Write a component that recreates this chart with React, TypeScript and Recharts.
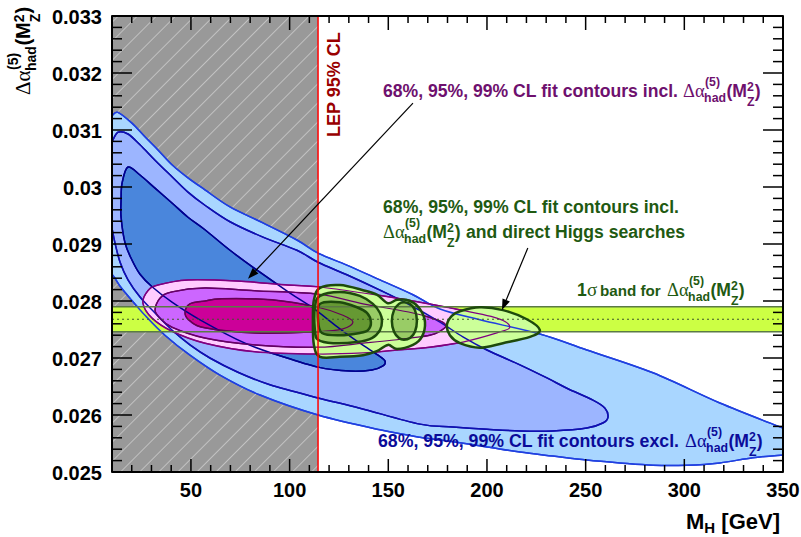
import React from "react";
import { ScatterChart, Scatter, XAxis, YAxis } from "recharts";

type P = [number, number];
type Pt = { x: number; y: number };

const SANS = '"Liberation Sans", Arial, Helvetica, sans-serif';
const SERIF = '"Liberation Serif", "Times New Roman", serif';

// axes
const xMajor = [50, 100, 150, 200, 250, 300, 350];
const yMajor = [0.025, 0.026, 0.027, 0.028, 0.029, 0.03, 0.031, 0.032, 0.033];
const xTicks: number[] = [];
for (let v = 10; v <= 350; v += 10) xTicks.push(v);
const yTicks: number[] = [];
for (let k = 0; k <= 40; k++) yTicks.push(Math.round((0.025 + k * 0.0002) * 1e5) / 1e5);

// LEP limit and 1 sigma band of dalpha_had
const lepLimit = 114.4;
const bandLo = 0.02746;
const bandMid = 0.02768;
const bandHi = 0.0279;

// fit contours excluding dalpha_had (blue)
const blue99: P[] = [
  [10, 0.03125], [13.0, 0.03131], [20.1, 0.03112], [26.7, 0.03088], [33.3, 0.03065], [40.4, 0.03039],
  [48.5, 0.03016], [57.1, 0.02995], [69.8, 0.02965], [86.5, 0.02937], [103.7, 0.02907], [114.4, 0.02884],
  [129.0, 0.02863], [145.8, 0.02837], [162.5, 0.02811], [176.2, 0.02786], [196.4, 0.02767], [226.8, 0.02742],
  [250.6, 0.02714], [284.1, 0.02674], [318.0, 0.02621], [350, 0.02577],
  [350, 0.0253], [334.7, 0.02525], [318.0, 0.02516], [301.3, 0.02512], [284.1, 0.02512], [267.3, 0.02516],
  [250.6, 0.02521], [233.4, 0.02528], [216.7, 0.02535], [200.0, 0.02544], [182.7, 0.02553], [166.0, 0.02561],
  [145.8, 0.02574], [114.4, 0.026], [85.0, 0.02635], [64.7, 0.0267], [49.5, 0.02705], [36.8, 0.0274],
  [26.7, 0.02775], [19.1, 0.02805], [14.1, 0.02826], [11.5, 0.0284], [10, 0.02847],
];
const blue95: P[] = [
  [10, 0.03079], [13.0, 0.03096], [18.1, 0.03093], [24.2, 0.03074], [31.8, 0.03047], [40.4, 0.03018],
  [48.5, 0.02991], [57.1, 0.02968], [69.8, 0.02939], [86.5, 0.02912], [103.7, 0.02889], [114.4, 0.02868],
  [129.0, 0.02846], [145.8, 0.02819], [161.0, 0.02793], [176.2, 0.02763], [187.8, 0.02737], [200.0, 0.02714],
  [216.7, 0.02688], [230.4, 0.02665], [240.5, 0.02647], [253.7, 0.02626], [259.8, 0.02612], [261.3, 0.02596],
  [258.7, 0.02586], [250.6, 0.02577], [233.4, 0.02572], [216.7, 0.02572], [200.0, 0.02575], [182.7, 0.02579],
  [166.0, 0.02584], [135.6, 0.02612], [114.4, 0.0263], [90.0, 0.02653], [73.8, 0.02675], [59.6, 0.027],
  [49.5, 0.02723], [40.4, 0.02749], [31.8, 0.02779], [24.2, 0.02807], [18.1, 0.02837], [14.1, 0.02868],
  [11.5, 0.02902], [10, 0.02928],
];
const blue68: P[] = [
  [18.1, 0.03035], [15.1, 0.03007], [14.6, 0.02977], [14.6, 0.02947], [16.6, 0.02902], [20.1, 0.02872],
  [24.2, 0.02847], [30.3, 0.02825], [40.4, 0.02798], [54.6, 0.02767], [77.4, 0.02726], [95.1, 0.02704],
  [114.4, 0.02684], [130.6, 0.02677], [141.7, 0.02679], [147.3, 0.02686], [148.3, 0.02695], [144.8, 0.02705],
  [135.6, 0.02726], [125.5, 0.02751], [111.8, 0.02788], [100.2, 0.02814], [83.5, 0.02854], [69.8, 0.02889],
  [57.1, 0.02925], [48.5, 0.02947], [40.4, 0.02972], [31.8, 0.02998], [24.2, 0.03021],
];

// fit contours including dalpha_had (magenta)
const pink99: P[] = [
  [25.7, 0.02796], [28.2, 0.02818], [33.3, 0.02828], [48.5, 0.02837], [73.8, 0.02835], [99.2, 0.02828],
  [114.4, 0.02825], [137.2, 0.02814], [154.4, 0.02805], [179.7, 0.02789], [205.0, 0.0277], [211.6, 0.02754],
  [205.0, 0.02744], [187.8, 0.02728], [171.1, 0.02719], [154.4, 0.02714], [137.2, 0.02709], [114.4, 0.02707],
  [82.4, 0.02711], [57.1, 0.02726], [40.4, 0.02747], [30.3, 0.0277],
];
const violet95: P[] = [
  [31.8, 0.02784], [34.3, 0.02805], [40.4, 0.02816], [57.1, 0.02823], [82.4, 0.02818], [114.4, 0.02812],
  [137.2, 0.02795], [162.5, 0.02779], [176.2, 0.02765], [179.2, 0.02756], [176.2, 0.02747], [171.1, 0.0274],
  [154.4, 0.02732], [137.2, 0.02726], [114.4, 0.02719], [82.4, 0.02723], [57.1, 0.02735], [40.4, 0.02754],
  [34.3, 0.0277],
];
const magenta68: P[] = [
  [47.0, 0.02779], [49.5, 0.02795], [57.1, 0.028], [65.7, 0.02804], [91.1, 0.02802], [114.4, 0.02789],
  [127.0, 0.02775], [132.1, 0.02763], [127.0, 0.02751], [114.4, 0.02746], [82.4, 0.02744], [57.1, 0.02753],
  [49.5, 0.02765],
];

// fit contours including dalpha_had and direct Higgs searches (green)
const green99a: P[] = [
  [111.8, 0.02767], [112.3, 0.02802], [115.4, 0.02823], [125.5, 0.02828], [137.2, 0.02819], [144.2, 0.02811],
  [149.8, 0.02796], [154.4, 0.02802], [161.0, 0.028], [166.0, 0.02786], [168.6, 0.02763], [167.0, 0.02737],
  [162.5, 0.02723], [154.4, 0.02716], [149.8, 0.02723], [144.2, 0.02712], [137.2, 0.02705], [125.5, 0.02702],
  [115.4, 0.02702], [112.3, 0.02723],
];
const green99b: P[] = [
  [179.7, 0.02758], [182.2, 0.02774], [186.3, 0.02782], [196.4, 0.02789], [208.1, 0.02784], [220.2, 0.02768],
  [226.8, 0.02749], [221.8, 0.02737], [208.1, 0.02726], [196.4, 0.02718], [186.3, 0.02726], [181.2, 0.0274],
];
const green95a: P[] = [
  [112.8, 0.02789], [115.4, 0.02809], [125.5, 0.02816], [135.6, 0.02809], [142.2, 0.02795], [145.8, 0.02779],
  [146.8, 0.02765], [145.8, 0.02749], [141.7, 0.02735], [134.1, 0.02728], [122.0, 0.02726], [114.4, 0.02732],
  [112.8, 0.02749],
];
const green95b: P[] = [
  [151.8, 0.02765], [152.9, 0.02784], [155.4, 0.02795], [157.9, 0.02798], [161.0, 0.02795], [163.5, 0.02784],
  [164.5, 0.02765], [163.5, 0.02746], [161.0, 0.02735], [157.9, 0.02732], [155.4, 0.02735], [152.9, 0.02746],
];
const green68: P[] = [
  [114.4, 0.02767], [115.4, 0.02795], [125.5, 0.02798], [134.1, 0.02789], [139.2, 0.02779], [141.2, 0.02763],
  [139.7, 0.02749], [135.6, 0.02744], [125.5, 0.0274], [116.4, 0.02744],
];

// annotation arrows (tail, head)
const arrowIncl: P[] = [[162.5, 0.03147], [78.9, 0.02839]];
const arrowHiggs: P[] = [[220.7, 0.02893], [207.6, 0.02784]];

const excluded: P[] = [[10, 0.025], [lepLimit, 0.025], [lepLimit, 0.033], [10, 0.033]];
const band: P[] = [[10, bandLo], [350, bandLo], [350, bandHi], [10, bandHi]];
const frame: P[] = [[10, 0.025], [350, 0.025], [350, 0.033], [10, 0.033]];

const PURPLE = "#6e106e";
const GREEN_TXT = "#1f5a12";
const BLUE_TXT = "#0b0b99";

const toXY = (a: P[]) => a.map(([x, y]) => ({ x, y }));
const noDot = () => <g />;
const isMajorY = (v: number) => yMajor.some((m) => Math.abs(m - v) < 1e-7);
const isMajorX = (v: number) => xMajor.includes(v);

// tick marks sit on the frame and point inwards, like the ROOT frame
const leftTicks = yTicks.map((y) => ({ x: 10, y, major: isMajorY(y) }));
const rightTicks = yTicks.map((y) => ({ x: 350, y, major: isMajorY(y) }));
const bottomTicks = xTicks.map((x) => ({ x, y: 0.025, major: isMajorX(x) }));
const topTicks = xTicks.map((x) => ({ x, y: 0.033, major: isMajorX(x) }));

function closedPath(pts: Pt[], data: P[], smooth: boolean) {
  const n = pts.length;
  if (!smooth) return "M" + pts.map((q) => `${q.x},${q.y}`).join("L") + "Z";
  const onEdge = (a: number, b: number) =>
    data[a][0] === data[b][0] && (data[a][0] === 10 || data[a][0] === 350);
  const tan = (k: number) => {
    const kp = (k - 1 + n) % n, kn = (k + 1) % n;
    const prev = onEdge(kp, k) ? pts[k] : pts[kp];
    const next = onEdge(k, kn) ? pts[k] : pts[kn];
    return { x: (next.x - prev.x) / 6, y: (next.y - prev.y) / 6 };
  };
  let d = `M${pts[0].x},${pts[0].y}`;
  for (let i = 0; i < n; i++) {
    const j = (i + 1) % n;
    const a = pts[i], b = pts[j];
    if (onEdge(i, j)) {
      d += `L${b.x},${b.y}`;
      continue;
    }
    const ta = tan(i), tb = tan(j);
    d += `C${a.x + ta.x},${a.y + ta.y} ${b.x - tb.x},${b.y - tb.y} ${b.x},${b.y}`;
  }
  return d + "Z";
}

const area = (id: string, data: P[], fill: string, stroke = "none", sw = 0, smooth = true) => (
  <Scatter
    key={id}
    data={toXY(data)}
    xAxisId="b"
    yAxisId="l"
    isAnimationActive={false}
    shape={noDot}
    line={(p: any) => (
      <path d={closedPath(p.points, data, smooth)} fill={fill} stroke={stroke} strokeWidth={sw} strokeLinejoin="round" />
    )}
  />
);

const segment = (id: string, data: P[], stroke: string, sw: number, dash?: string) => (
  <Scatter
    key={id}
    data={toXY(data)}
    xAxisId="b"
    yAxisId="l"
    isAnimationActive={false}
    shape={noDot}
    line={(p: any) => (
      <path
        d={"M" + p.points.map((q: Pt) => `${q.x},${q.y}`).join("L")}
        fill="none"
        stroke={stroke}
        strokeWidth={sw}
        strokeDasharray={dash}
      />
    )}
  />
);

const arrow = (id: string, data: P[]) => (
  <Scatter
    key={id}
    data={toXY(data)}
    xAxisId="b"
    yAxisId="l"
    isAnimationActive={false}
    shape={noDot}
    line={(p: any) => {
      const [a, b] = p.points as Pt[];
      const dx = b.x - a.x, dy = b.y - a.y;
      const len = Math.hypot(dx, dy) || 1;
      const ux = dx / len, uy = dy / len;
      const hl = 11, hw = 4;
      const bx = b.x - ux * hl, by = b.y - uy * hl;
      return (
        <g>
          <line x1={a.x} y1={a.y} x2={bx} y2={by} stroke="#000" strokeWidth={1.2} />
          <path d={`M${b.x},${b.y}L${bx - uy * hw},${by + ux * hw}L${bx + uy * hw},${by - ux * hw}Z`} fill="#000" />
        </g>
      );
    }}
  />
);

// dx, dy: direction of the tick into the frame; [major, minor] lengths in px
const tickMarks = (id: string, data: any[], dx: number, dy: number, lens: [number, number]) => (
  <Scatter
    key={id}
    data={data}
    xAxisId="b"
    yAxisId="l"
    isAnimationActive={false}
    shape={(p: any) => {
      const major = p.payload?.major ?? p.major;
      const L = major ? lens[0] : lens[1];
      return <line x1={p.cx} y1={p.cy} x2={p.cx + dx * L} y2={p.cy + dy * L} stroke="#000" strokeWidth={1.5} />;
    }}
  />
);

const fmtY = (v: number) => String(Number(v.toFixed(3)));

const LeftLabel = (p: any) => (
  <text x={p.x} y={p.y + 8} textAnchor="end" fontFamily={SANS} fontWeight="bold" fontSize={20} fill="#000">
    {fmtY(p.payload.value)}
  </text>
);
const BottomLabel = (p: any) => (
  <text x={p.x} y={p.y + 25} textAnchor="middle" fontFamily={SANS} fontWeight="bold" fontSize={20} fill="#000">
    {p.payload.value}
  </text>
);

function DeltaAlpha({ x, y, size, fill }: { x: number; y: number; size: number; fill: string }) {
  const s = size, k = 0.7 * size;
  const x1 = x + 1.2 * s;
  const x2 = x1 + 1.27 * s;
  const x3 = x2 + 1.17 * s;
  const x4 = x3 + 0.44 * s;
  const b = { fontFamily: SANS, fontWeight: "bold" as const };
  return (
    <g fill={fill}>
      <text x={x} y={y} fontFamily={SERIF} fontSize={s * 1.05}>Δα</text>
      <text x={x1} y={y + 0.28 * s} {...b} fontSize={k}>had</text>
      <text x={x1 + 0.05 * s} y={y - 0.62 * s} {...b} fontSize={k}>(5)</text>
      <text x={x2} y={y} {...b} fontSize={s}>(M</text>
      <text x={x3} y={y - 0.32 * s} {...b} fontSize={k}>2</text>
      <text x={x3} y={y + 0.5 * s} {...b} fontSize={k}>Z</text>
      <text x={x4} y={y} {...b} fontSize={s}>)</text>
    </g>
  );
}

export default function App() {
  const fs = 17.6;
  return (
    <div style={{ position: "absolute", left: 0, top: 0, width: 801, height: 537, background: "#fff" }}>
      <svg width={0} height={0} style={{ position: "absolute" }}>
        <defs>
          <pattern id="hatch" patternUnits="userSpaceOnUse" width={13.5} height={13.5} patternTransform="rotate(45)">
            <rect width={13.5} height={13.5} fill="#999999" />
            <line x1={0} y1={0} x2={0} y2={13.5} stroke="#dcdcdc" strokeWidth={1.2} />
          </pattern>
        </defs>
      </svg>
      <div style={{ position: "absolute", left: 0, top: 0 }}>
        <ScatterChart width={801} height={537} margin={{ top: 16, right: 18, bottom: 25, left: 12 }}>
          {area("excl", excluded, "url(#hatch)", "none", 0, false)}
          {area("b99", blue99, "#a9d6ff", "#2040e0", 1.5)}
          {area("b95", blue95, "#9cb5ff", "#1010b0", 1.5)}
          {area("b68", blue68, "#4a86dc", "#000090", 1.5)}
          {area("band", band, "#ccff44", "none", 0, false)}
          {area("p99", pink99, "#ffccff", "#800080", 1.5)}
          {area("p95", violet95, "#cc66ff", "#660066", 1.5)}
          {area("p68", magenta68, "#cc0099", "#660055", 1.5)}
          {area("g99a", green99a, "#ccff99")}
          {area("g99b", green99b, "#ccff99")}
          {area("g95a", green95a, "#99cc66")}
          {area("g95b", green95b, "#99cc66")}
          {area("g68", green68, "#669933")}
          {area("b99l", blue99, "none", "#2040e0", 1.5)}
          {area("b95l", blue95, "none", "#1010b0", 1.5)}
          {area("b68l", blue68, "none", "#000090", 1.5)}
          {area("p99l", pink99, "none", "#800080", 1.2)}
          {area("p95l", violet95, "none", "#660066", 1.2)}
          {area("p68l", magenta68, "none", "#660055", 1.2)}
          {segment("bandHi", [[10, bandHi], [350, bandHi]], "#5b7a45", 1.5)}
          {segment("bandLo", [[10, bandLo], [350, bandLo]], "#5b7a45", 1.5)}
          {segment("bandMid", [[10, bandMid], [350, bandMid]], "#3d5a2a", 1.2, "2 3")}
          {area("g99al", green99a, "none", "#1d4a0c", 2.5)}
          {area("g99bl", green99b, "none", "#1d4a0c", 2.5)}
          {area("g95al", green95a, "none", "#1d4a0c", 2.5)}
          {area("g95bl", green95b, "none", "#1d4a0c", 2.5)}
          {area("g68l", green68, "none", "#1d4a0c", 2.5)}
          {segment("lep", [[lepLimit, 0.025], [lepLimit, 0.033]], "#ff0000", 1.5)}
          {arrow("arrIncl", arrowIncl)}
          {arrow("arrHiggs", arrowHiggs)}
          {tickMarks("tL", leftTicks, 1, 0, [20, 10])}
          {tickMarks("tR", rightTicks, -1, 0, [20, 10])}
          {tickMarks("tB", bottomTicks, 0, -1, [13, 7])}
          {tickMarks("tT", topTicks, 0, 1, [14, 7])}
          {area("frame", frame, "none", "#000", 2, false)}
          <XAxis xAxisId="b" type="number" dataKey="x" domain={[10, 350]} ticks={xMajor} interval={0}
            tickSize={0} tickMargin={0} tickLine={false} axisLine={false} tick={BottomLabel} height={40} />
          <YAxis yAxisId="l" type="number" dataKey="y" domain={[0.025, 0.033]} ticks={yMajor} interval={0}
            tickSize={0} tickMargin={10} tickLine={false} axisLine={false} tick={LeftLabel} width={100} />
        </ScatterChart>
      </div>
      <svg width={801} height={537} style={{ position: "absolute", left: 0, top: 0, pointerEvents: "none" }}>
        <g transform="translate(30,95) rotate(-90)">
          <DeltaAlpha x={0} y={0} size={20} fill="#000" />
        </g>
        <text x={780} y={529} textAnchor="end" fontFamily={SANS} fontWeight="bold" fontSize={22} fill="#000">
          M<tspan fontSize={15} dy={4}>H</tspan><tspan dy={-4}> [GeV]</tspan>
        </text>
        <text transform="translate(340,137) rotate(-90)" fontFamily={SANS} fontWeight="bold" fontSize={18} fill="#990000">
          LEP 95% CL
        </text>
        <text x={383} y={97} fontFamily={SANS} fontWeight="bold" fontSize={fs} fill={PURPLE}
          textLength={295} lengthAdjust="spacingAndGlyphs">
          68%, 95%, 99% CL fit contours incl.
        </text>
        <DeltaAlpha x={683} y={97} size={fs} fill={PURPLE} />
        <text x={383} y={213} fontFamily={SANS} fontWeight="bold" fontSize={fs} fill={GREEN_TXT}
          textLength={296} lengthAdjust="spacingAndGlyphs">
          68%, 95%, 99% CL fit contours incl.
        </text>
        <DeltaAlpha x={383} y={238} size={fs} fill={GREEN_TXT} />
        <text x={466} y={238} fontFamily={SANS} fontWeight="bold" fontSize={fs} fill={GREEN_TXT}
          textLength={219} lengthAdjust="spacingAndGlyphs">
          and direct Higgs searches
        </text>
        <text x={577} y={296} fontFamily={SANS} fontWeight="bold" fontSize={fs} fill={GREEN_TXT}>1</text>
        <text x={587} y={296} fontFamily={SERIF} fontSize={19} fill={GREEN_TXT}>σ</text>
        <text x={600} y={296} fontFamily={SANS} fontWeight="bold" fontSize={15.2} fill={GREEN_TXT}>
          band for
        </text>
        <DeltaAlpha x={667} y={296} size={fs} fill={GREEN_TXT} />
        <text x={378} y={447} fontFamily={SANS} fontWeight="bold" fontSize={fs} fill={BLUE_TXT}
          textLength={301} lengthAdjust="spacingAndGlyphs">
          68%, 95%, 99% CL fit contours excl.
        </text>
        <DeltaAlpha x={685} y={447} size={fs} fill={BLUE_TXT} />
      </svg>
    </div>
  );
}
